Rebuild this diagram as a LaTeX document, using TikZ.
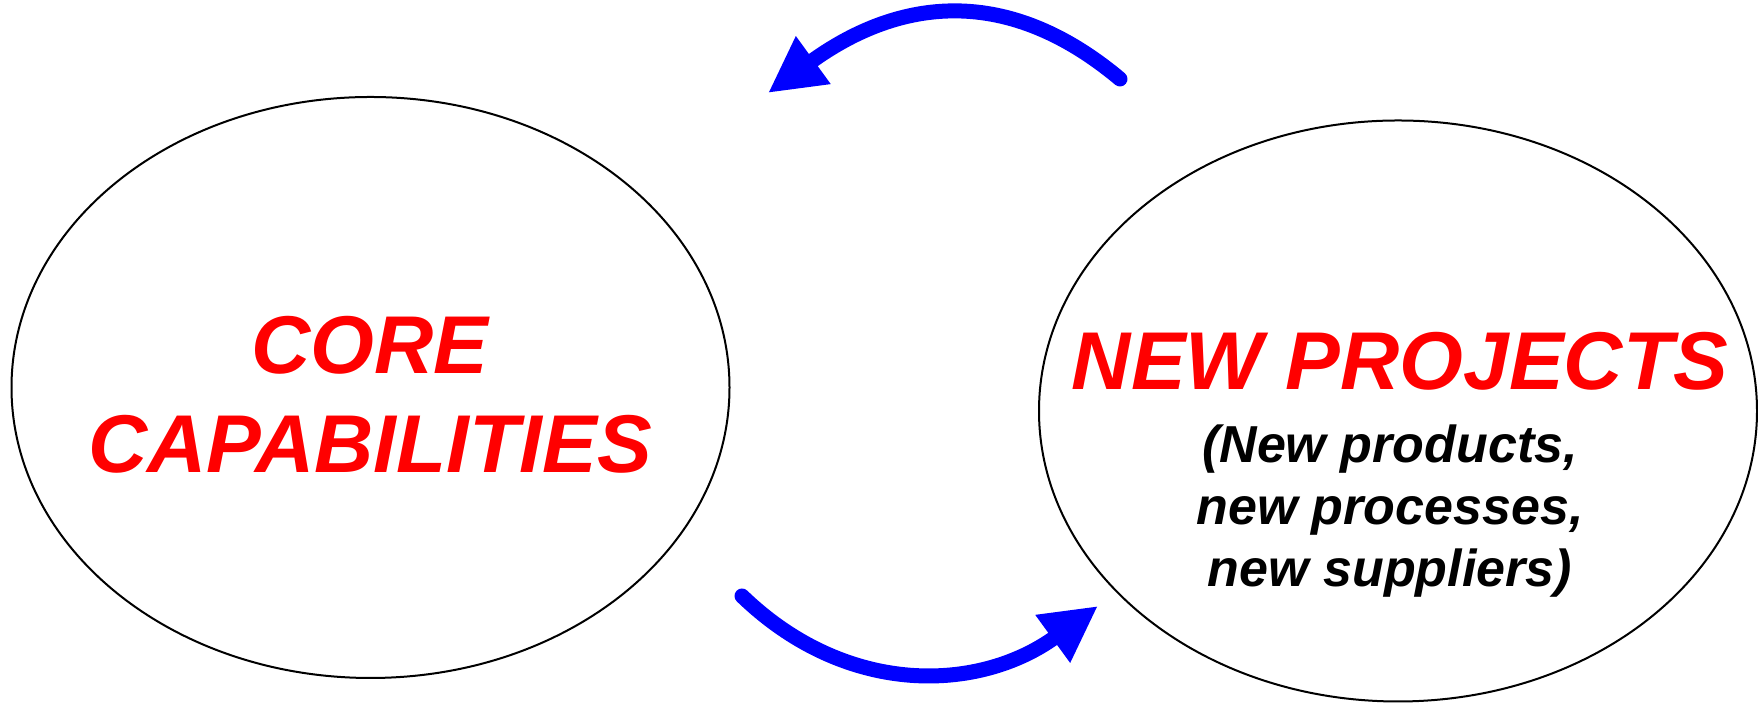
\documentclass[tikz,border=0pt]{standalone}
\usepackage{fontspec}
\setmainfont{Liberation Sans}
\usetikzlibrary{arrows.meta,calc,shapes.geometric}
\definecolor{CapClr}{rgb}{1,0,0}
\definecolor{CycleClr}{rgb}{0,0,1}

\begin{document}
\begin{tikzpicture}[x=0.5pt,y=0.5pt,
  capoval/.style={ellipse,draw=black,line width=1pt,minimum width=359pt,minimum height=290.5pt,inner sep=0pt},
  bigtxt/.style={text=CapClr,font=\fontsize{41}{49.5}\selectfont\bfseries\itshape,align=center,inner sep=0pt},
  smalltxt/.style={text=black,font=\fontsize{26}{31}\selectfont\bfseries\itshape,align=center,inner sep=0pt},
  cyclearrow/.style={draw=CycleClr,line width=7.5pt,line cap=round,-{Triangle[length=28pt,width=27.5pt]}}]
\useasboundingbox (0,0) rectangle (1758,704);

\node[capoval] (core) at (370.5,316.5) {};
\node[capoval] (proj) at (1398,293) {};

\node[bigtxt,anchor=base] (coretext) at (370,231) {CORE\\CAPABILITIES};
\node[bigtxt,anchor=base] (projtitle) at (1400,314) {NEW PROJECTS};
\node[smalltxt,anchor=base] (projsub) at (1390,117) {(New products,\\new processes,\\ new suppliers)};

\coordinate (backstart) at (1120,625);
\coordinate (backend) at (768,611);
\coordinate (fwdstart) at (742,108);
\coordinate (fwdend) at (1098,98);

\draw[cyclearrow] (backstart) to[out=140,in=36,looseness=1.12] (backend);
\draw[cyclearrow] (fwdstart) to[out=-44,in=216,looseness=1.05] (fwdend);

\end{tikzpicture}
\end{document}
